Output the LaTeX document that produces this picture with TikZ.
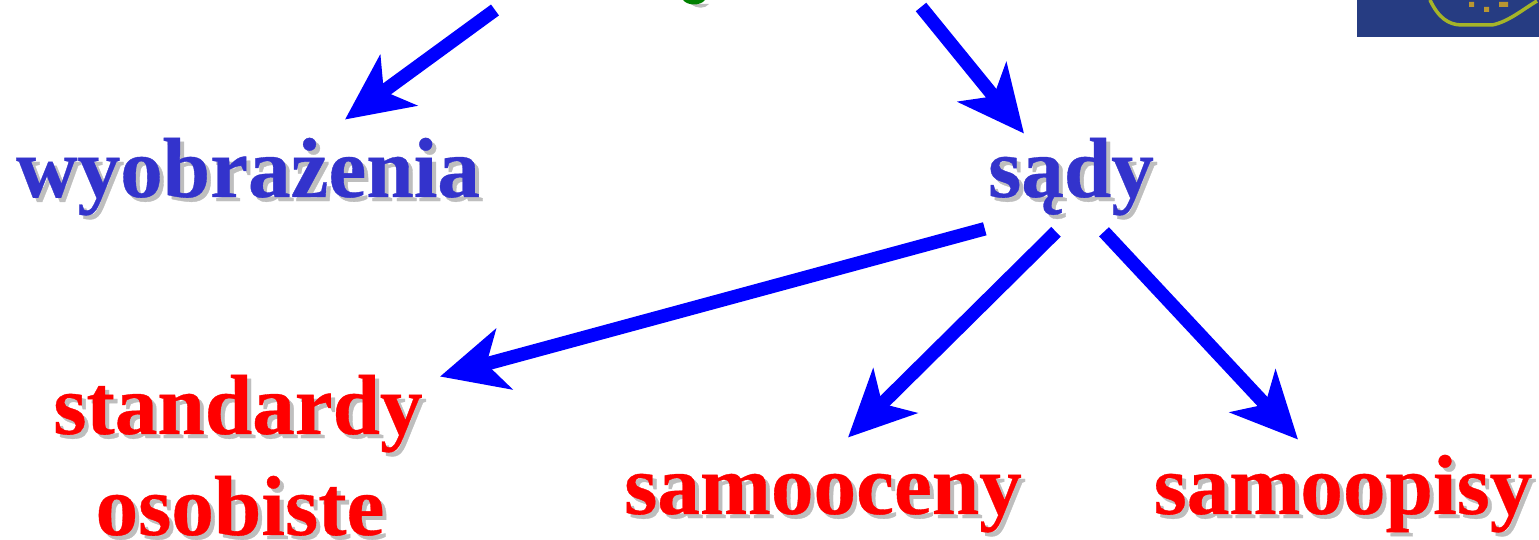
\documentclass[tikz,border=0pt]{standalone}
\usepackage{fontspec}
\setmainfont[BoldFeatures={FakeBold=0.4}]{Liberation Serif}
\usetikzlibrary{arrows.meta, positioning, calc}
\definecolor{labelblue}{RGB}{51,51,204}
\definecolor{arrowblue}{RGB}{0,0,255}
\definecolor{labelred}{RGB}{255,0,0}
\definecolor{shadowgray}{RGB}{190,190,190}
\definecolor{emblemblue}{RGB}{38,60,130}
\definecolor{emblemgreen}{RGB}{0,128,0}
\definecolor{smileyellow}{RGB}{165,180,40}
\definecolor{dotorange}{RGB}{185,150,50}
\newcommand{\shadowed}[2]{\makebox[0pt][l]{\hspace{2.3pt}\raisebox{-2.3pt}{\textcolor{shadowgray}{#2}}}\textcolor{#1}{#2}}
\tikzset{
  label text/.style={inner sep=0pt, anchor=base, font=\fontsize{48.5}{58}\selectfont\bfseries},
  link/.style={->, line width=0.27cm, draw=arrowblue}
}

\begin{document}
\begin{tikzpicture}[x=0.02cm, y=-0.02cm, >={Stealth[length=1.32cm,width=1.24cm,inset=0.36cm]}]
  \useasboundingbox (0,0) rectangle (1539,540);
  % cropped shapes along the top edge
  \fill[shadowgray] (691,4) .. controls (697,9) and (705,9) .. (709,4) -- cycle;
  \fill[emblemgreen] (683,0) .. controls (688,6) and (700,6) .. (705,0) -- cycle;
  \fill[emblemblue] (1357,0) rectangle (1539,37);
  \draw[smileyellow, line width=0.07cm] (1430,0) .. controls (1438,17) and (1448,25) .. (1462,25) -- (1492,25) .. controls (1508,22) and (1522,10) .. (1537,1);
  \fill[dotorange] (1469,2) rectangle (1474,7) (1484,7) rectangle (1489,12) (1499,2) rectangle (1508,7);

  \node[label text] (wyobrazenia) at (248,197) {\shadowed{labelblue}{wyobrażenia}};
  \node[label text] (sady) at (1071,197) {\shadowed{labelblue}{sądy}};
  \node[label text] (standardy) at (238,434) {\shadowed{labelred}{standardy}};
  \node[label text] (osobiste) at (240,535) {\shadowed{labelred}{osobiste}};
  \node[label text] (samooceny) at (823,514) {\shadowed{labelred}{samooceny}};
  \node[label text] (samoopisy) at (1343,514) {\shadowed{labelred}{samoopisy}};

  \coordinate (topleft) at (495,10);
  \coordinate (topright) at (921,7);

  \draw[link] (topleft) -- ($(wyobrazenia.north)+(97,-18)$);
  \draw[link] (topright) -- ($(sady.north)+(-47,-4)$);
  \draw[link] ($(sady.south west)+(-3,9)$) -- ($(standardy.north east)+(17,2)$);
  \draw[link] ($(sady.south)+(-15,12)$) -- ($(samooceny.north)+(25,-36)$);
  \draw[link] ($(sady.south)+(33,12)$) -- ($(samoopisy.north)+(-45,-15)$);
\end{tikzpicture}
\end{document}
